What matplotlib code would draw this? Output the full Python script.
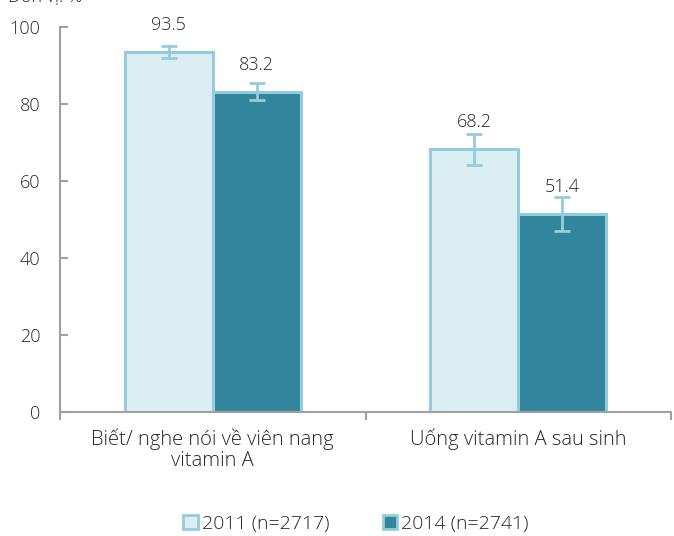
import matplotlib.pyplot as plt
import numpy as np
from matplotlib.patches import Patch

plt.rcParams['font.family'] = ['Open Sans', 'DejaVu Sans']

categories = ['Biết/ nghe nói về viên nang\nvitamin A', 'Uống vitamin A sau sinh']
series_names = ['2011 (n=2717)', '2014 (n=2741)']
values_2011 = [93.5, 68.2]
values_2014 = [83.2, 51.4]
err_2011 = [1.5, 4.0]
err_2014 = [2.2, 4.5]

face_colors = ['#DBEEF4', '#31859C']
edge_color = '#93CDDD'
axis_color = '#A0A0A0'
text_color = '#262626'

fig = plt.figure(figsize=(6.74, 5.36), dpi=100)
ax = fig.add_axes([60 / 674, 1 - 412 / 536, 611 / 674, 385 / 536])

x = np.arange(len(categories))
width = 0.288

for vals, errs, fc, off in [(values_2011, err_2011, face_colors[0], -width / 2),
                            (values_2014, err_2014, face_colors[1], width / 2)]:
    ax.bar(x + off, vals, width, color=fc, edgecolor=edge_color, linewidth=2.2, zorder=2)
    ax.errorbar(x + off, vals, yerr=errs, fmt='none', ecolor=edge_color,
                elinewidth=2, capsize=6, capthick=2, zorder=3)
    for xi, v in zip(x + off, vals):
        ax.annotate(f'{v:.1f}', (xi, v), xytext=(0, 13), textcoords='offset points',
                    ha='center', va='bottom', fontsize=13, color=text_color,
                    fontweight='light')

ax.set_xlim(-0.5, 1.5)
ax.set_ylim(0, 100)

# spines
for s in ['top', 'right']:
    ax.spines[s].set_visible(False)
for s in ['left', 'bottom']:
    ax.spines[s].set_color(axis_color)
    ax.spines[s].set_linewidth(1.5)

ax.set_yticks(np.arange(0, 101, 20))
ax.tick_params(axis='y', direction='in', length=6, width=1.5, color=axis_color,
               labelsize=13, labelcolor=text_color, pad=14)
for lab in ax.get_yticklabels():
    lab.set_fontweight('light')

ax.set_xticks(x)
ax.set_xticklabels(categories, fontsize=14.5, color=text_color, fontweight='light',
                   linespacing=1.05)
ax.tick_params(axis='x', length=0, pad=12)
ax.set_xticks([-0.5, 0.5, 1.5], minor=True)
ax.tick_params(axis='x', which='minor', direction='out', length=6, width=1.5, color=axis_color)

handles = [Patch(facecolor=face_colors[i], edgecolor=edge_color, linewidth=2, label=series_names[i])
           for i in range(2)]
leg = fig.legend(handles=handles, loc='center', bbox_to_anchor=(356 / 674, 1 - 524 / 536),
                 ncol=2, frameon=False, fontsize=14, handlelength=0.75, handleheight=0.75,
                 handletextpad=0.2, columnspacing=2.75)
for t in leg.get_texts():
    t.set_color(text_color)
    t.set_fontweight('light')

fig.text(8 / 674, 1 - 2 / 536, 'Đơn vị: %', fontsize=13, color=text_color,
         fontweight='light', va='baseline', ha='left')

fig.savefig('out.png', dpi=100)
